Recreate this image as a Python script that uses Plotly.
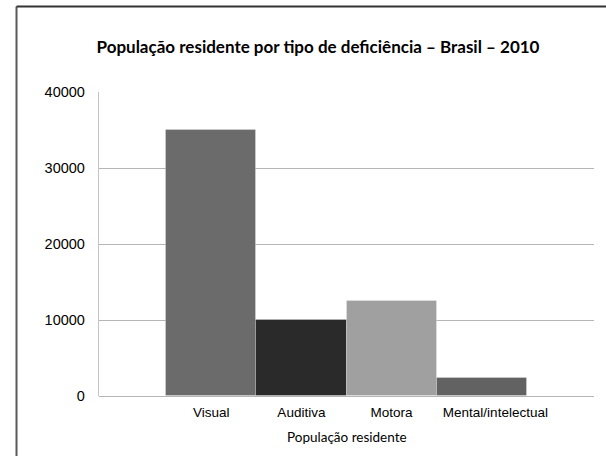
import plotly.graph_objects as go

categories = ["Visual", "Auditiva", "Motora", "Mental/intelectual"]
values = [35000, 10000, 12500, 2400]
colors = ["#6b6b6b", "#2a2a2a", "#a0a0a0", "#626262"]
y_ticks = [0, 10000, 20000, 30000, 40000]

W, H = 606, 456
L, R, T, B = 99, 12, 92, 60

xpos = list(range(len(categories)))
# the last label sits a bit right of its bar in the original
label_pos = [p + (0.15 if i == len(xpos) - 1 else 0) for i, p in enumerate(xpos)]

fig = go.Figure()

fig.add_trace(go.Bar(
    x=xpos,
    y=values,
    width=1,
    marker=dict(color=colors, line=dict(color="rgba(255,255,255,0.25)", width=1)),
    showlegend=False,
))

fig.update_layout(
    width=W, height=H,
    margin=dict(l=L, r=R, t=T, b=B),
    paper_bgcolor="white",
    plot_bgcolor="white",
    bargap=0,
    title=dict(
        text="<b>População residente por tipo de deficiência – Brasil – 2010</b>",
        font=dict(family="Lato", size=17, color="black"),
        x=318 / W, xanchor="center", xref="container",
        y=1 - 47 / H, yanchor="middle", yref="container",
    ),
    font=dict(family="Liberation Sans", color="black"),
)

fig.update_xaxes(
    range=[-1.243, 4.243],
    tickmode="array",
    tickvals=label_pos,
    ticktext=categories,
    tickfont=dict(family="Liberation Sans", size=13.5, color="black"),
    showgrid=False,
    showline=False,
    zeroline=False,
    ticks="outside", ticklen=4, tickcolor="rgba(0,0,0,0)",
)
fig.update_yaxes(
    range=[0, 40000],
    tickvals=y_ticks,
    tickformat="d",
    tickfont=dict(family="Liberation Sans", size=14.5, color="black"),
    showgrid=True, gridcolor="#b5b5b5", gridwidth=1.3,
    showline=True, linecolor="#c4c4c4", linewidth=1.3,
    zeroline=True, zerolinecolor="#b5b5b5", zerolinewidth=1.3,
    ticks="outside", ticklen=10, tickcolor="rgba(0,0,0,0)",
)

plot_h = H - T - B
plot_w = W - L - R
fig.add_annotation(
    text="População residente",
    xref="paper", yref="paper",
    x=0.5, y=-(437 - 396) / plot_h,
    xanchor="center", yanchor="middle",
    showarrow=False,
    font=dict(family="Lato", size=13.5, color="black"),
)

# outer frame (only left and top edges visible in the crop), kept inside the page
bx = (16.5 - L) / plot_w
by = (396 - 6.5) / plot_h
bottom = -B / plot_h
right = (W - L) / plot_w
fig.add_shape(type="line", xref="paper", yref="paper",
              x0=bx, x1=bx, y0=bottom, y1=by,
              line=dict(color="#5a5a5a", width=2))
fig.add_shape(type="line", xref="paper", yref="paper",
              x0=bx, x1=right, y0=by, y1=by,
              line=dict(color="#333333", width=2))

# drop the default 8px body margin so the figure sits at the page corner
fig.write_html("out.html", config={"displayModeBar": False},
               post_script="document.body.style.margin='0px';")
